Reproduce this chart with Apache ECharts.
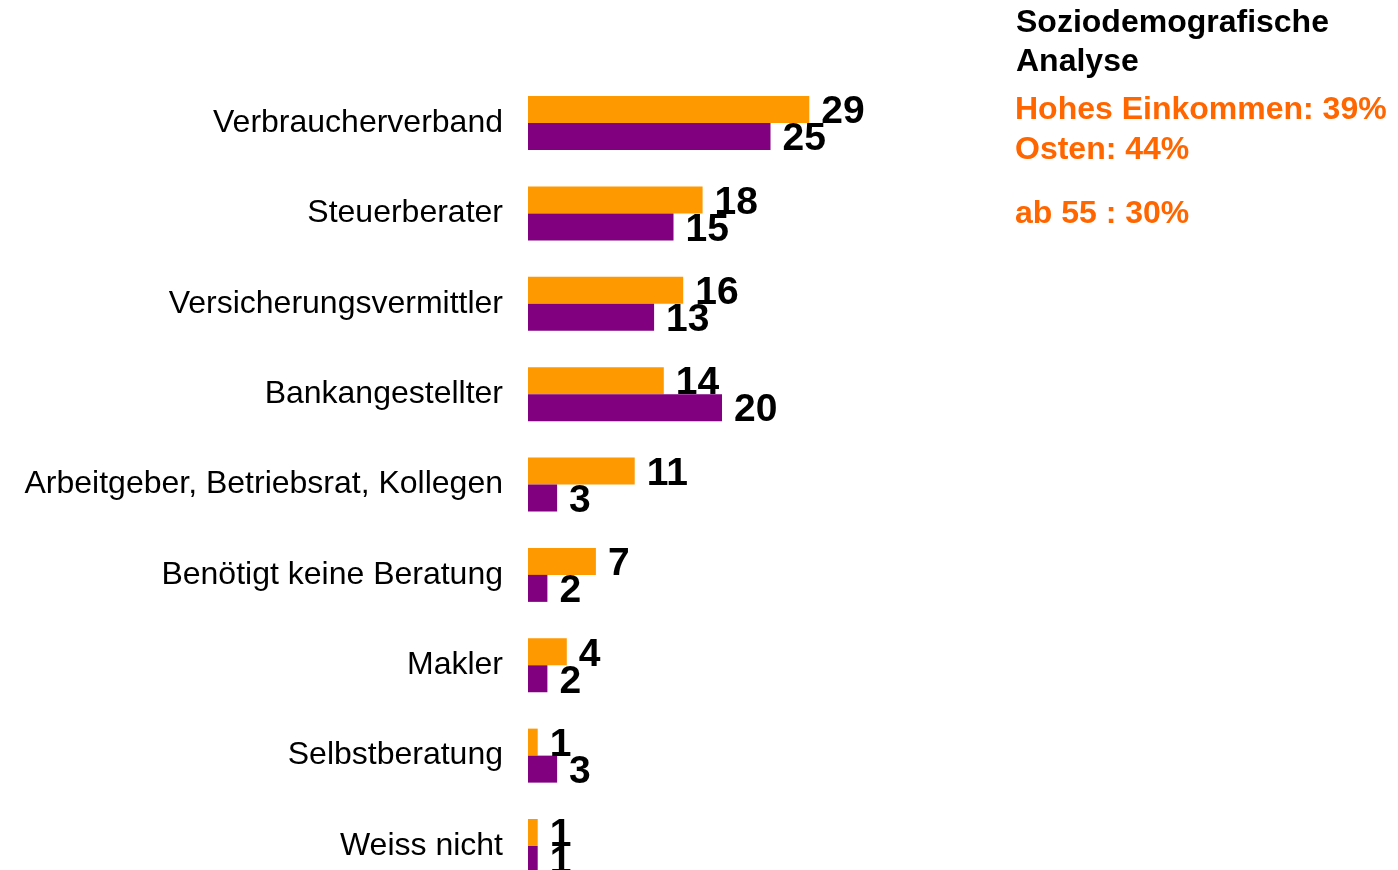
<!DOCTYPE html>
<html>
<head>
<meta charset="utf-8">
<script src="https://cdn.jsdelivr.net/npm/echarts@6/dist/echarts.min.js"></script>
<style>
  html, body { margin: 0; padding: 0; background: #ffffff; }
  #chart { width: 1398px; height: 870px; }
</style>
</head>
<body>
<div id="chart"></div>
<script>
// Categories, top to bottom
const categories = [
  'Verbraucherverband',
  'Steuerberater',
  'Versicherungsvermittler',
  'Bankangestellter',
  'Arbeitgeber, Betriebsrat, Kollegen',
  'Benötigt keine Beratung',
  'Makler',
  'Selbstberatung',
  'Weiss nicht'
];

// Values in percent
const valuesOrange = [29, 18, 16, 14, 11, 7, 4, 1, 1];
const valuesPurple = [25, 15, 13, 20, 3, 2, 2, 3, 1];

// Side panel text
const panelTitle = ['Soziodemografische', 'Analyse'];
const panelNotes = ['Hohes Einkommen: 39%', 'Osten: 44%', 'ab 55 : 30%'];

const FONT = '"Liberation Sans", Arial, Helvetica, sans-serif';

const chart = echarts.init(document.getElementById('chart'), null, { renderer: 'canvas' });

const valueLabel = {
  show: true,
  position: 'right',
  distance: 12,
  offset: [0, 3],
  color: '#000000',
  fontFamily: FONT,
  fontWeight: 'bold',
  fontSize: 39
};

chart.setOption({
  backgroundColor: '#ffffff',
  animation: false,
  // category positions run from the first to the last band centre
  grid: { left: 528, top: 123, width: 485, bottom: 24, containLabel: false },
  xAxis: {
    type: 'value',
    min: 0,
    max: 50,
    show: false
  },
  yAxis: {
    type: 'category',
    data: categories,
    inverse: true,
    boundaryGap: false,
    axisLine: { show: false },
    axisTick: { show: false },
    splitLine: { show: false },
    axisLabel: {
      margin: 25,
      color: '#000000',
      fontFamily: FONT,
      fontSize: 32,
      padding: [0, 0, 8, 0]
    }
  },
  series: [
    {
      name: 'orange',
      type: 'bar',
      data: valuesOrange,
      barWidth: 27,
      barGap: '0%',
      itemStyle: { color: '#FF9900' },
      label: valueLabel
    },
    {
      name: 'purple',
      type: 'bar',
      data: valuesPurple,
      barWidth: 27,
      barGap: '0%',
      itemStyle: { color: '#800080' },
      label: valueLabel
    }
  ],
  graphic: [
    { type: 'text', left: 1016, top: 7, style: { text: panelTitle[0], fill: '#000000', font: 'bold 32px ' + FONT } },
    { type: 'text', left: 1016, top: 46, style: { text: panelTitle[1], fill: '#000000', font: 'bold 32px ' + FONT } },
    { type: 'text', left: 1015, top: 94, style: { text: panelNotes[0], fill: '#FF6600', font: 'bold 32px ' + FONT } },
    { type: 'text', left: 1015, top: 134, style: { text: panelNotes[1], fill: '#FF6600', font: 'bold 32px ' + FONT } },
    { type: 'text', left: 1015, top: 198, style: { text: panelNotes[2], fill: '#FF6600', font: 'bold 32px ' + FONT } }
  ]
});
</script>
</body>
</html>
